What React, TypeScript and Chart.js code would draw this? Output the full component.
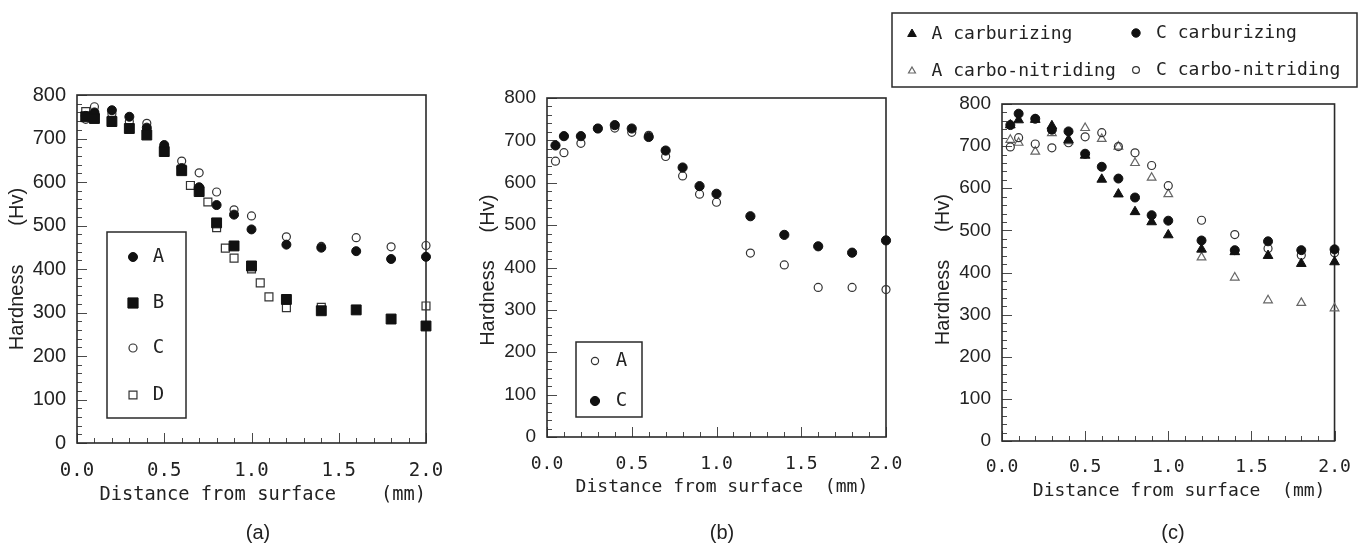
import React, { useEffect, useRef } from "react";
import { Chart, registerables } from "chart.js";

Chart.register(...registerables);

const PAGE_W = 1366;
const PAGE_H = 545;

// ---------- shared axis ticks ----------
const xTickValues = [0, 0.5, 1.0, 1.5, 2.0];
const xTickLabels = ["0.0", "0.5", "1.0", "1.5", "2.0"];
const yTickValues = [0, 100, 200, 300, 400, 500, 600, 700, 800];
const yTickLabels = ["0", "100", "200", "300", "400", "500", "600", "700", "800"];

// ---------- panel (a) ----------
const distA = [0.05, 0.1, 0.2, 0.3, 0.4, 0.5, 0.6, 0.7, 0.8, 0.9, 1.0, 1.2, 1.4, 1.6, 1.8, 2.0];
const hardA_A = [752, 760, 765, 750, 725, 685, 632, 588, 547, 525, 491, 456, 449, 441, 423, 428];
const hardA_B = [750, 746, 739, 723, 708, 670, 626, 578, 506, 453, 407, 330, 304, 306, 285, 269];
const hardA_C = [744, 773, 757, 739, 735, 680, 648, 621, 577, 536, 522, 474, 452, 472, 451, 454];
const distA_D = [0.05, 0.1, 0.2, 0.3, 0.4, 0.5, 0.6, 0.65, 0.7, 0.75, 0.8, 0.85, 0.9, 1.0, 1.05, 1.1, 1.2, 1.4, 2.0];
const hardA_D = [762, 752, 742, 722, 714, 675, 630, 592, 582, 554, 495, 448, 425, 400, 368, 336, 311, 312, 315];

// ---------- panel (b) ----------
const distB = [0.05, 0.1, 0.2, 0.3, 0.4, 0.5, 0.6, 0.7, 0.8, 0.9, 1.0, 1.2, 1.4, 1.6, 1.8, 2.0];
const hardB_A = [651, 671, 693, 728, 729, 719, 712, 662, 616, 573, 554, 434, 406, 353, 353, 348];
const hardB_C = [688, 710, 710, 728, 736, 728, 708, 676, 636, 592, 574, 521, 477, 450, 435, 464];

// ---------- panel (c) ----------
const distC = [0.05, 0.1, 0.2, 0.3, 0.4, 0.5, 0.6, 0.7, 0.8, 0.9, 1.0, 1.2, 1.4, 1.6, 1.8, 2.0];
const hardC_Acarb = [750, 762, 763, 748, 715, 678, 621, 586, 544, 520, 489, 455, 449, 440, 421, 425];
const hardC_Ccarb = [750, 777, 765, 739, 735, 682, 651, 623, 578, 536, 523, 476, 453, 474, 453, 455];
const hardC_Acn = [715, 708, 687, 731, 712, 743, 717, 699, 660, 625, 586, 436, 388, 334, 328, 315];
const hardC_Ccn = [698, 720, 705, 696, 708, 722, 732, 699, 684, 654, 606, 524, 490, 457, 441, 447];

const MONO = "'DejaVu Sans Mono', 'Liberation Mono', monospace";
const SANS = "'Liberation Sans', Arial, sans-serif";
const INK = "#222";

function pts(xs: number[], ys: number[]) {
  return xs.map((x, i) => ({ x, y: ys[i] }));
}

type Shape = "circle" | "rect" | "triangle";

function series(label: string, xs: number[], ys: number[], shape: Shape, r: number, filled: boolean, order: number, stroke = "#111") {
  return {
    label,
    data: pts(xs, ys),
    pointStyle: shape,
    pointRadius: r,
    pointBackgroundColor: filled ? "#111" : "rgba(0,0,0,0)",
    pointBorderColor: filled ? "#111" : stroke,
    pointBorderWidth: filled ? 1 : 1.2,
    backgroundColor: filled ? "#111" : "rgba(0,0,0,0)",
    borderColor: filled ? "#111" : stroke,
    borderWidth: filled ? 1 : 1.2,
    showLine: false,
    clip: false as any,
    order,
  };
}

function drawMarker(ctx: CanvasRenderingContext2D, shape: string, x: number, y: number, r: number, fill: string, stroke: string, lw: number) {
  ctx.beginPath();
  if (shape === "circle") {
    ctx.arc(x, y, r, 0, Math.PI * 2);
  } else if (shape === "rect") {
    const s = r * Math.SQRT1_2;
    ctx.rect(x - s, y - s, 2 * s, 2 * s);
  } else {
    let a = 0;
    for (let k = 0; k < 3; k++) {
      const px = x + Math.sin(a) * r;
      const py = y - Math.cos(a) * r;
      if (k === 0) ctx.moveTo(px, py);
      else ctx.lineTo(px, py);
      a += (Math.PI * 2) / 3;
    }
    ctx.closePath();
  }
  ctx.fillStyle = fill;
  ctx.fill();
  ctx.lineWidth = lw;
  ctx.strokeStyle = stroke;
  ctx.stroke();
}

type LegendItem = { ds: number; mx: number; y: number; r: number; tx: number; align: CanvasTextAlign };
type Notes = {
  box: [number, number, number, number];
  items: LegendItem[];
  legendFont: string;
  caption: { text: string; x: number; y: number };
};

function framePlugin() {
  return {
    id: "frameTicks",
    beforeDatasetsDraw(chart: any) {
      const { ctx, chartArea: a, scales } = chart;
      ctx.save();
      ctx.strokeStyle = "#4a4a4a";
      ctx.lineWidth = 1;
      for (let i = 0; i <= 20; i++) {
        const px = Math.round(scales.x.getPixelForValue(i / 10)) + 0.5;
        const len = i % 5 === 0 ? 10 : 5;
        ctx.beginPath();
        ctx.moveTo(px, a.bottom);
        ctx.lineTo(px, a.bottom - len);
        ctx.stroke();
      }
      for (let j = 0; j <= 40; j++) {
        const py = Math.round(scales.y.getPixelForValue(j * 20)) + 0.5;
        const len = j % 5 === 0 ? 10 : 5;
        ctx.beginPath();
        ctx.moveTo(a.left, py);
        ctx.lineTo(a.left + len, py);
        ctx.stroke();
      }
      ctx.strokeStyle = "#2a2a2a";
      ctx.lineWidth = 1.6;
      ctx.strokeRect(a.left, a.top, a.right - a.left, a.bottom - a.top);
      ctx.restore();
    },
  };
}

function notesPlugin(n: Notes) {
  return {
    id: "notes",
    afterDraw(chart: any) {
      const ctx: CanvasRenderingContext2D = chart.ctx;
      ctx.save();
      const [x1, y1, x2, y2] = n.box;
      ctx.strokeStyle = "#2a2a2a";
      ctx.lineWidth = 1.5;
      ctx.strokeRect(x1, y1, x2 - x1, y2 - y1);
      for (const it of n.items) {
        const d = chart.data.datasets[it.ds];
        drawMarker(ctx, d.pointStyle, it.mx, it.y, it.r, d.pointBackgroundColor, d.pointBorderColor, d.pointBorderWidth);
        ctx.fillStyle = INK;
        ctx.font = n.legendFont;
        ctx.textAlign = it.align;
        ctx.textBaseline = "middle";
        ctx.fillText(d.label, it.tx, it.y);
      }
      ctx.fillStyle = INK;
      ctx.font = `20px ${SANS}`;
      ctx.textAlign = "center";
      ctx.textBaseline = "middle";
      ctx.fillText(n.caption.text, n.caption.x, n.caption.y);
      ctx.restore();
    },
  };
}

type Geo = {
  L: number; T: number; R: number; B: number;
  yTitleX: number; xTitleY: number; xTickY: number;
  xFont: number; yTickFont: number;
  yTitle: string; xTitle: string;
};

function buildConfig(geo: Geo, datasets: any[], notes: Notes) {
  const capBlock = 24; // space reserved under the x axis for the caption
  const yTitleLH = 24; // 20px * 1.2
  const yTitlePad = 5;
  const pl = geo.yTitleX - yTitleLH / 2 - yTitlePad;
  const yW = geo.L - pl;
  const xAxisBottom = PAGE_H - capBlock;
  const xH = xAxisBottom - geo.B;
  const xLH = geo.xFont * 1.2;
  const xTitlePadBottom = xAxisBottom - xLH / 2 - geo.xTitleY;
  const xTickPad = geo.xTickY - geo.B - xLH / 2 + 1;

  return {
    type: "scatter" as const,
    data: { datasets },
    options: {
      animation: false as const,
      responsive: false,
      devicePixelRatio: 1,
      events: [] as any[],
      layout: {
        padding: { left: pl, top: geo.T, right: PAGE_W - geo.R, bottom: capBlock },
      },
      plugins: {
        legend: { display: false },
        tooltip: { enabled: false },
        title: { display: false },
      },
      scales: {
        x: {
          type: "linear" as const,
          position: "bottom" as const,
          min: 0,
          max: 2,
          grid: { display: false, drawTicks: false },
          border: { display: false },
          afterBuildTicks: (s: any) => {
            s.ticks = xTickValues.map((v) => ({ value: v }));
          },
          afterFit: (s: any) => {
            s.height = xH;
          },
          ticks: {
            autoSkip: false,
            maxRotation: 0,
            padding: xTickPad,
            color: INK,
            font: { family: MONO, size: geo.xFont },
            callback: (_v: any, i: number) => xTickLabels[i],
          },
          title: {
            display: true,
            text: geo.xTitle,
            color: INK,
            font: { family: MONO, size: geo.xFont },
            padding: { top: 0, bottom: xTitlePadBottom },
          },
        },
        y: {
          type: "linear" as const,
          position: "left" as const,
          min: 0,
          max: 800,
          grid: { display: false, drawTicks: false },
          border: { display: false },
          afterBuildTicks: (s: any) => {
            s.ticks = yTickValues.map((v) => ({ value: v }));
          },
          afterFit: (s: any) => {
            s.width = yW;
          },
          ticks: {
            padding: 11,
            color: INK,
            font: { family: SANS, size: geo.yTickFont },
            callback: (_v: any, i: number) => yTickLabels[i],
          },
          title: {
            display: true,
            text: geo.yTitle,
            color: INK,
            font: { family: SANS, size: 20 },
            padding: { top: yTitlePad, bottom: 0 },
          },
        },
      },
    },
    plugins: [framePlugin(), notesPlugin(notes)],
  };
}

function configA() {
  const datasets = [
    series("B", distA, hardA_B, "rect", 7, true, 0),
    series("A", distA, hardA_A, "circle", 4.5, true, 1),
    series("C", distA, hardA_C, "circle", 4, false, 2, "#333"),
    series("D", distA_D, hardA_D, "rect", 5.6, false, 3, "#333"),
  ];
  return buildConfig(
    {
      L: 77, T: 95, R: 426, B: 443,
      yTitleX: 17, xTitleY: 495, xTickY: 470,
      xFont: 19, yTickFont: 20,
      yTitle: "Hardness       (Hv)",
      xTitle: "  Distance from surface    (mm)",
    },
    datasets,
    {
      box: [107, 232, 186, 418],
      legendFont: `19px ${MONO}`,
      items: [
        { ds: 1, mx: 133, y: 257, r: 4.5, tx: 158.5, align: "center" },
        { ds: 0, mx: 133, y: 303, r: 7.2, tx: 158.5, align: "center" },
        { ds: 2, mx: 133, y: 348, r: 4, tx: 158.5, align: "center" },
        { ds: 3, mx: 133, y: 395, r: 5.6, tx: 158.5, align: "center" },
      ],
      caption: { text: "(a)", x: 258, y: 533 },
    }
  );
}

function configB() {
  const datasets = [
    series("C", distB, hardB_C, "circle", 4.6, true, 0),
    series("A", distB, hardB_A, "circle", 4, false, 1, "#333"),
  ];
  return buildConfig(
    {
      L: 547, T: 98, R: 886, B: 437,
      yTitleX: 488, xTitleY: 487, xTickY: 463,
      xFont: 18, yTickFont: 19,
      yTitle: "Hardness     (Hv) ",
      xTitle: " Distance from surface  (mm)",
    },
    datasets,
    {
      box: [576, 342, 642, 417],
      legendFont: `19px ${MONO}`,
      items: [
        { ds: 1, mx: 595, y: 361, r: 3.6, tx: 621.5, align: "center" },
        { ds: 0, mx: 595, y: 401, r: 4.6, tx: 621.5, align: "center" },
      ],
      caption: { text: "(b)", x: 722, y: 533 },
    }
  );
}

function configC() {
  const datasets = [
    series("C carburizing", distC, hardC_Ccarb, "circle", 4.5, true, 0),
    series("A carburizing", distC, hardC_Acarb, "triangle", 5.6, true, 1),
    series("C carbo-nitriding", distC, hardC_Ccn, "circle", 4, false, 2, "#333"),
    series("A carbo-nitriding", distC, hardC_Acn, "triangle", 5, false, 3, "#666"),
  ];
  return buildConfig(
    {
      L: 1002, T: 104, R: 1339, B: 441,
      yTitleX: 943, xTitleY: 491, xTickY: 466,
      xFont: 18, yTickFont: 19,
      yTitle: " Hardness     (Hv)",
      xTitle: "  Distance from surface  (mm)",
    },
    datasets,
    {
      box: [892, 13, 1357, 87],
      legendFont: `18px ${MONO}`,
      items: [
        { ds: 1, mx: 912, y: 34, r: 5, tx: 931.5, align: "left" },
        { ds: 0, mx: 1136, y: 33, r: 4.2, tx: 1156, align: "left" },
        { ds: 3, mx: 912, y: 71, r: 4, tx: 931.5, align: "left" },
        { ds: 2, mx: 1136, y: 70, r: 3.4, tx: 1156, align: "left" },
      ],
      caption: { text: "(c)", x: 1173, y: 533 },
    }
  );
}

function ChartCanvas({ build }: { build: () => any }) {
  const ref = useRef<HTMLCanvasElement | null>(null);
  useEffect(() => {
    if (!ref.current) return;
    const chart = new Chart(ref.current, build());
    return () => chart.destroy();
  }, [build]);
  return (
    <canvas
      ref={ref}
      width={PAGE_W}
      height={PAGE_H}
      style={{ position: "absolute", left: 0, top: 0, width: PAGE_W, height: PAGE_H, display: "block" }}
    />
  );
}

export default function App() {
  return (
    <div
      style={{
        position: "absolute",
        left: 0,
        top: 0,
        width: PAGE_W,
        height: PAGE_H,
        overflow: "hidden",
        background: "#fff",
      }}
    >
      <ChartCanvas build={configA} />
      <ChartCanvas build={configB} />
      <ChartCanvas build={configC} />
    </div>
  );
}
